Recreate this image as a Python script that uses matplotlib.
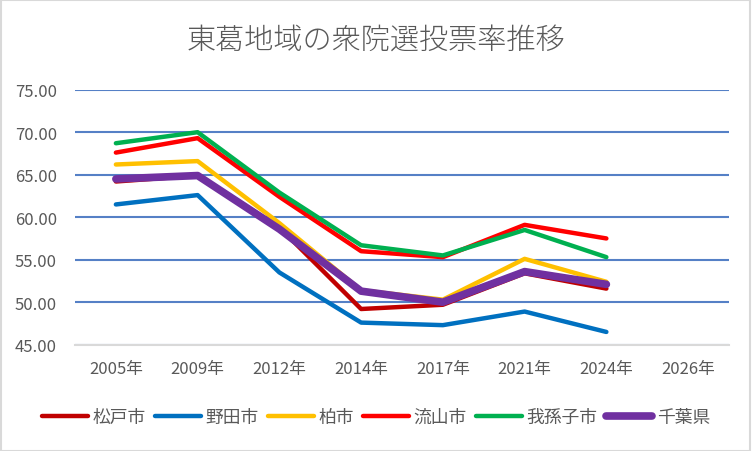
import numpy as np
import matplotlib
matplotlib.use("Agg")
import matplotlib.pyplot as plt
from matplotlib.patches import Rectangle

plt.rcParams['font.family'] = ['Noto Sans CJK JP', 'DejaVu Sans']

title = "東葛地域の衆院選投票率推移"
years = ["2005年", "2009年", "2012年", "2014年", "2017年", "2021年", "2024年", "2026年"]
series_names = ["松戸市", "野田市", "柏市", "流山市", "我孫子市", "千葉県"]
matsudo = [64.2, 64.9, 58.8, 49.2, 49.7, 53.4, 51.6, np.nan]
noda = [61.5, 62.6, 53.5, 47.6, 47.3, 48.9, 46.5, np.nan]
kashiwa = [66.2, 66.6, 59.3, 51.4, 50.3, 55.1, 52.4, np.nan]
nagareyama = [67.6, 69.3, 62.4, 56.0, 55.3, 59.1, 57.5, np.nan]
abiko = [68.7, 70.0, 62.9, 56.7, 55.5, 58.5, 55.3, np.nan]
chiba = [64.5, 64.9, 58.6, 51.3, 50.0, 53.6, 52.1, np.nan]
yticks = [45, 50, 55, 60, 65, 70, 75]

series = [matsudo, noda, kashiwa, nagareyama, abiko, chiba]
colors = ["#C00000", "#0070C0", "#FFC000", "#FF0000", "#00B050", "#7030A0"]
widths = [3.2, 3.2, 3.2, 3.2, 3.2, 5.5]

fig = plt.figure(figsize=(7.52, 4.52), dpi=100)
ax = fig.add_axes([75/752, 1-345.7/452, (729-75)/752, (345.7-90.7)/452])

x = np.arange(len(years))
for name, vals, c, w in zip(series_names, series, colors, widths):
    ax.plot(x, vals, color=c, lw=w, label=name, solid_capstyle='round',
            solid_joinstyle='round')

ax.set_xlim(-0.5, len(years) - 0.5)
ax.set_ylim(45, 75)
ax.set_yticks(yticks)
ax.set_yticklabels([f"{v:.2f}" for v in yticks])
ax.set_xticks(x)
ax.set_xticklabels(years)
ax.yaxis.grid(True, color="#5580C6", lw=1.5)
ax.set_axisbelow(True)
for s in ["top", "right", "left"]:
    ax.spines[s].set_visible(False)
ax.spines["bottom"].set_color("#D9D9D9")
ax.spines["bottom"].set_linewidth(1.5)
ax.tick_params(axis='both', length=0, colors="#595959", labelsize=12)
ax.tick_params(axis='y', pad=13)
ax.tick_params(axis='x', pad=11)

fig.text(0.5, 1-40/452, title, ha='center', va='center', fontsize=21,
         color="#595959", fontweight='light')

fig.legend(loc='center', bbox_to_anchor=(0.5, 1-418/452), ncol=6, frameon=False,
           fontsize=12.8, labelcolor="#595959", handlelength=2.6,
           handletextpad=0.25, columnspacing=0.5)

fig.add_artist(Rectangle((0.001, 0.001), 0.997, 0.997, transform=fig.transFigure,
                         fill=False, edgecolor="#D9D9D9", lw=1.5))

fig.savefig("out.png", dpi=100)
